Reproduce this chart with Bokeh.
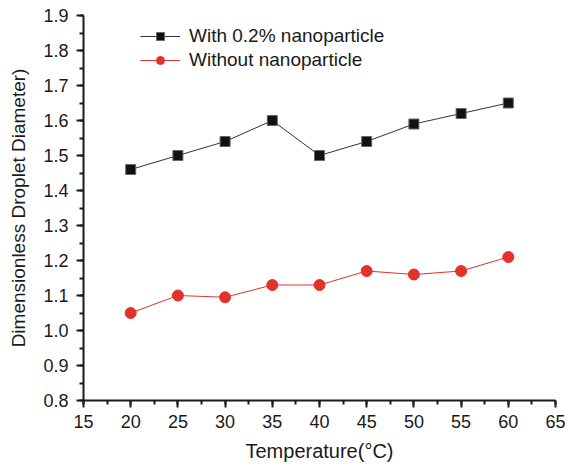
from bokeh.plotting import figure
from bokeh.models import SingleIntervalTicker, Range1d, Legend, LegendItem, NumeralTickFormatter
from bokeh.embed import file_html
from bokeh.resources import INLINE

temperature = [20, 25, 30, 35, 40, 45, 50, 55, 60]
with_np = [1.46, 1.50, 1.54, 1.60, 1.50, 1.54, 1.59, 1.62, 1.65]
without_np = [1.05, 1.10, 1.095, 1.13, 1.13, 1.17, 1.16, 1.17, 1.21]

FONT = "Liberation Sans"
INK = "#1a1a1a"
RED = "#e3322b"

p = figure(width=567, height=467, output_backend="svg", toolbar_location=None,
           x_range=Range1d(15, 65), y_range=Range1d(0.8, 1.9 + 1e-9))
p.min_border_left = 83
p.min_border_right = 12
p.min_border_top = 15
p.min_border_bottom = 67
p.outline_line_color = None
p.grid.grid_line_color = None

l1 = p.line(temperature, with_np, line_color="#333333", line_width=1)
s1 = p.scatter(temperature, with_np, marker="square", size=10, fill_color="#111111",
               line_color="#666666", line_width=1)
l2 = p.line(temperature, without_np, line_color=RED, line_width=1)
s2 = p.scatter(temperature, without_np, marker="circle", size=11, fill_color=RED, line_color=RED)

for ax in (p.xaxis[0], p.yaxis[0]):
    ax.axis_line_width = 2
    ax.axis_line_color = INK
    ax.major_tick_line_width = 2
    ax.minor_tick_line_width = 2
    ax.major_tick_line_color = INK
    ax.minor_tick_line_color = INK
    ax.major_tick_out = 7
    ax.major_tick_in = 0
    ax.minor_tick_out = 4
    ax.minor_tick_in = 0
    ax.major_label_text_font = FONT
    ax.major_label_text_font_size = "18px"
    ax.major_label_text_color = INK
    ax.axis_label_text_font = FONT
    ax.axis_label_text_font_style = "normal"
    ax.axis_label_text_color = INK

p.xaxis.ticker = SingleIntervalTicker(interval=5, num_minor_ticks=2)
p.yaxis.ticker = SingleIntervalTicker(interval=0.1, num_minor_ticks=2)
p.yaxis.formatter = NumeralTickFormatter(format="0.0")
p.xaxis.axis_label = "Temperature(°C)"
p.yaxis.axis_label = "Dimensionless Droplet Diameter)"
p.xaxis.axis_label_text_font_size = "20px"
p.yaxis.axis_label_text_font_size = "19px"
p.xaxis.major_label_standoff = 7
p.yaxis.major_label_standoff = 8
p.xaxis.axis_label_standoff = 9
p.yaxis.axis_label_standoff = 11

legend = Legend(items=[
    LegendItem(label="With 0.2% nanoparticle", renderers=[l1, s1]),
    LegendItem(label="Without nanoparticle", renderers=[l2, s2]),
], location=(57, 329), border_line_color=None, background_fill_alpha=0,
    label_text_font=FONT, label_text_font_size="19px", label_text_color=INK,
    glyph_width=40, glyph_height=20, label_height=20, spacing=2, padding=0,
    margin=0, label_standoff=9)
p.add_layout(legend, "center")

open("out.html", "w").write(file_html(p, INLINE))
